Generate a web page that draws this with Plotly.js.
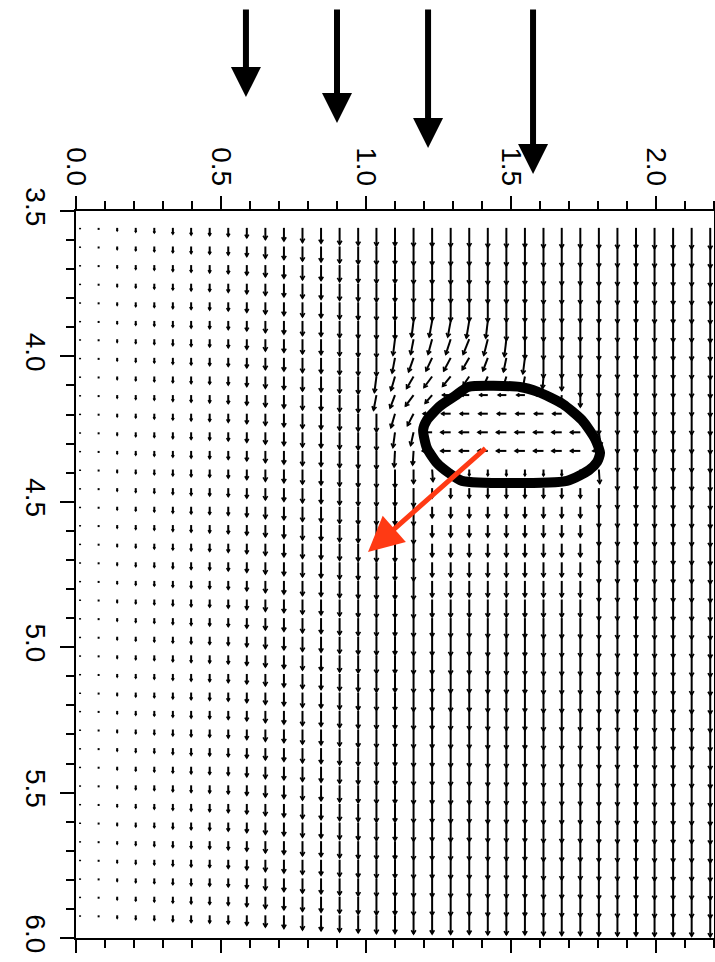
<!DOCTYPE html>
<html><head><meta charset="utf-8">
<script src="https://cdn.plot.ly/plotly-3.0.1.min.js"></script>
<style>html,body{margin:0;padding:0;background:#fff;} #chart{width:715px;height:962px;}</style>
</head><body><div id="chart"></div>
<script>
// ---- grid of the vector field (data units) ----
const colX = [0.014,0.078,0.142,0.206,0.270,0.334,0.397,0.461,0.525,0.589,0.653,0.717,0.781,0.845,0.909,0.973,1.036,1.100,1.164,1.228,1.292,1.356,1.420,1.484,1.548,1.612,1.675,1.739,1.803,1.867,1.931,1.995,2.059,2.123,2.187];
const rowY = [3.558,3.622,3.686,3.750,3.814,3.878,3.941,4.005,4.069,4.133,4.197,4.261,4.325,4.389,4.453,4.517,4.580,4.644,4.708,4.772,4.836,4.900,4.964,5.028,5.092,5.156,5.219,5.283,5.347,5.411,5.475,5.539,5.603,5.667,5.731,5.795,5.858,5.922];
// undisturbed downward velocity of each column (arrow length, y units)
const colV = [0.005,0.007,0.010,0.014,0.017,0.021,0.024,0.026,0.029,0.034,0.040,0.045,0.050,0.053,0.057,0.060,0.062,0.062,0.064,0.064,0.065,0.065,0.067,0.067,0.067,0.069,0.069,0.069,0.071,0.071,0.071,0.072,0.072,0.072,0.074];
// disturbed vectors around the drop: [col, row, u, v]
const nearDrop = [
 [18,5,-0.007,0.055],[19,5,-0.010,0.055],[20,5,-0.010,0.055],[21,5,-0.010,0.059],[22,5,-0.007,0.059],
 [17,6,-0.007,0.055],[18,6,-0.010,0.052],[19,6,-0.014,0.052],[20,6,-0.017,0.052],[21,6,-0.021,0.052],[22,6,-0.014,0.055],[23,6,-0.007,0.059],
 [17,7,-0.010,0.052],[18,7,-0.017,0.048],[19,7,-0.021,0.045],[20,7,-0.024,0.045],[21,7,-0.024,0.041],[22,7,-0.017,0.045],[23,7,-0.010,0.048],[24,7,-0.007,0.055],
 [16,8,-0.007,0.055],[17,8,-0.014,0.048],[18,8,-0.024,0.041],[19,8,-0.028,0.038],[20,8,-0.028,0.034],[21,8,-0.021,0.031],[22,8,-0.014,0.031],[23,8,-0.010,0.034],[24,8,-0.007,0.038],[25,8,-0.003,0.041],[26,8,0,0.048],
 [16,9,-0.010,0.052],[17,9,-0.017,0.045],[18,9,-0.028,0.038],[19,9,-0.024,0.028],[26,9,-0.003,0.034],[27,9,0,0.041],
 [17,10,-0.014,0.048],[18,10,-0.021,0.041],[27,10,0.007,0.041],
 [17,11,-0.007,0.052],[18,11,-0.010,0.045],[28,11,0.007,0.048],
 [17,12,-0.003,0.055],[18,12,-0.003,0.048],
 [18,13,0,0.048],[19,13,0.003,0.041],[28,13,0.003,0.048]
];
// uniform bands inside / behind the drop: [row, firstCol, lastCol, u, v]
const dropBands = [
 [9,20,25,-0.028,0],[10,19,26,-0.031,0],[11,19,27,-0.034,0],[12,19,27,-0.034,0],[12,28,28,-0.021,0],[13,20,27,0,0.021],
 [14,19,27,0,0.034],[15,19,27,0,0.038],[16,19,27,0,0.041],[17,19,27,0,0.045],[18,19,27,0,0.050],[19,19,27,0,0.055],[20,19,27,0,0.060]
];
// drop outline
const dropX = [1.352,1.531,1.593,1.679,1.745,1.790,1.807,1.797,1.769,1.693,1.331,1.286,1.245,1.210,1.197,1.210,1.255,1.307,1.352];
const dropY = [4.105,4.105,4.122,4.164,4.219,4.284,4.332,4.363,4.391,4.428,4.428,4.401,4.367,4.315,4.253,4.219,4.171,4.136,4.105];
// drop velocity arrow (from -> to)
const dropVelFrom = [1.417, 4.312];
const dropVelTo = [1.007, 4.673];
// inflow profile arrows above the plot: x position and length (px)
const inflowX = [0.586, 0.900, 1.214, 1.576];
const inflowLen = [89, 115, 140, 166];
// ticks
const xTicks = [0, 0.5, 1.0, 1.5, 2.0];
const xTickText = ['0.0','0.5','1.0','1.5','2.0'];
const yTicks = [3.5, 4.0, 4.5, 5.0, 5.5, 6.0];
const yTickText = ['3.5','4.0','4.5','5.0','5.5','6.0'];

// ---- build vectors ----
const field = {};
colX.forEach((x,k)=>rowY.forEach((y,r)=>{ field[k+'_'+r] = [0, colV[k]]; }));
dropBands.forEach(b=>{ for(let k=b[1];k<=b[2];k++) field[k+'_'+b[0]] = [b[3], b[4]]; });
nearDrop.forEach(d=>{ field[d[0]+'_'+d[1]] = [d[2], d[3]]; });

const sx=[], sy=[], hx=[], hy=[];
colX.forEach((x,k)=>rowY.forEach((y,r)=>{
  const [u,v] = field[k+'_'+r];
  const L = Math.hypot(u,v);
  const tx = x+u, ty = y+v;
  sx.push(x, tx, null); sy.push(y, ty, null);
  if (L > 0.008) {
    const h = Math.min(0.38*L, 0.015), a = 0.55;
    const dx = u/L, dy = v/L;
    const c = Math.cos(a), s = Math.sin(a);
    const b1x = tx - h*(dx*c - dy*s), b1y = ty - h*(dx*s + dy*c);
    const b2x = tx - h*(dx*c + dy*s), b2y = ty - h*(-dx*s + dy*c);
    hx.push(b1x, tx, b2x, null); hy.push(b1y, ty, b2y, null);
  }
}));

const traces = [
  {type:'scatter', mode:'lines', x:sx, y:sy, line:{color:'#000', width:2}, hoverinfo:'skip'},
  {type:'scatter', mode:'lines', x:hx, y:hy, line:{color:'#000', width:1.6}, hoverinfo:'skip'},
  {type:'scatter', mode:'lines', x:dropX, y:dropY, line:{color:'#000', width:10, shape:'spline', smoothing:0.6}, hoverinfo:'skip'}
];

const plotH = 962-211-24;
const annotations = inflowX.map((x,i)=>({
  x:x, xref:'x', y: 1 + (203 - inflowLen[i])/plotH, yref:'paper',
  ax:0, ay:-inflowLen[i], axref:'pixel', ayref:'pixel',
  text:'', showarrow:true, arrowhead:2, arrowsize:1, arrowwidth:6, arrowcolor:'#000', standoff:0
}));
annotations.push({
  x:dropVelTo[0], y:dropVelTo[1], xref:'x', yref:'y',
  ax:dropVelFrom[0], ay:dropVelFrom[1], axref:'x', ayref:'y',
  text:'', showarrow:true, arrowhead:2, arrowsize:1.4, arrowwidth:5, arrowcolor:'#ff3a14', standoff:0
});

const tf = {family:'Liberation Sans, Arial, sans-serif', size:28, color:'#000'};
const layout = {
  width:715, height:962,
  margin:{l:76, r:1, t:211, b:24, pad:0},
  paper_bgcolor:'#fff', plot_bgcolor:'#fff', showlegend:false,
  xaxis:{range:[0,2.2], side:'top', tickmode:'array', tickvals:xTicks, ticktext:xTickText,
    ticks:'outside', ticklen:13, tickwidth:2, tickcolor:'#000', tickangle:90, tickfont:tf,
    showline:true, linewidth:2, linecolor:'#000', mirror:'ticks', showgrid:false, zeroline:false,
    minor:{tickmode:'linear', tick0:0, dtick:0.1, ticks:'outside', ticklen:8, tickwidth:2, tickcolor:'#000', showgrid:false}},
  yaxis:{range:[6.0,3.5], tickmode:'array', tickvals:yTicks, ticktext:yTickText,
    ticks:'outside', ticklen:14, tickwidth:2, tickcolor:'#000', tickangle:90, tickfont:tf,
    showline:true, linewidth:2, linecolor:'#000', mirror:'ticks', showgrid:false, zeroline:false,
    minor:{tickmode:'linear', tick0:3.5, dtick:0.1, ticks:'outside', ticklen:8, tickwidth:2, tickcolor:'#000', showgrid:false}},
  annotations:annotations
};
Plotly.newPlot('chart', traces, layout, {staticPlot:true, displayModeBar:false});
</script></body></html>
